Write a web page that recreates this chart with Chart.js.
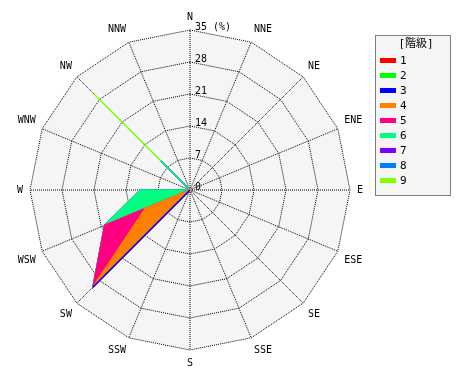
<!DOCTYPE html>
<html><head><meta charset="utf-8">
<script src="https://cdn.jsdelivr.net/npm/chart.js@4/dist/chart.umd.min.js"></script>
<style>html,body{margin:0;padding:0;background:#fff;}</style>
</head><body>
<canvas id="c" width="470" height="380" style="width:470px;height:380px;display:block"></canvas>
<script>
const directions = ['N','NNE','NE','ENE','E','ESE','SE','SSE','S','SSW','SW','WSW','W','WNW','NW','NNW'];
const classLabels = ['1','2','3','4','5','6','7','8','9'];
const classColors = ['#ff0000','#00ff00','#0000ff','#ff8000','#ff0080','#00ff80','#8000ff','#0080ff','#80ff00'];
const legendTitle = '[階級]';
const tickValues = [0,7,14,21,28,35];
const tickLabels = ['0','7','14','21','28','35 (%)'];
// cumulative frequency (%) up to each class, by direction (N ... NNW)
const class1 = [0,0,0,0,0,0,0,0,0,0,0,0,0,0,0,0];
const class2 = [0,0,0,0,0,0,0,0,0,0,0,0,0,0,0,0];
const class3 = [0,0,0,0,0,0,0,0,0,0,30,0,0,0,0,0];
const class4 = [0,0,0,0,0,0,0,0,0,0,30,10.6,0,0,0,0];
const class5 = [0,0,0,0,0,0,0,0,0,0,30,20.2,0,0,0,0];
const class6 = [0,0,0,0,0,0,0,0,0,0,30,20.2,10.8,0,9,0];
const class7 = [0,0,0,0,0,0,0,0,0,0,30,20.2,10.8,0,9,0];
const class8 = [0,0,0,0,0,0,0,0,0,0,30,20.2,10.8,0,9,0];
const class9 = [0,0,0,0,0,0,0,0,0,0,30,20.2,10.8,0,29.7,0];
const classData = [class1,class2,class3,class4,class5,class6,class7,class8,class9];

const FONT = '"DejaVu Sans Mono", "Noto Sans CJK JP", monospace';

const bgPlugin = {
  id: 'bg',
  beforeDraw(chart) {
    const ctx = chart.ctx, s = chart.scales.r;
    ctx.save();
    ctx.fillStyle = '#fff';
    ctx.fillRect(0, 0, chart.width, chart.height);
    ctx.beginPath();
    for (let i = 0; i < directions.length; i++) {
      const p = s.getPointPositionForValue(i, s.max);
      if (i === 0) ctx.moveTo(p.x, p.y); else ctx.lineTo(p.x, p.y);
    }
    ctx.closePath();
    ctx.fillStyle = '#f5f5f5';
    ctx.fill();
    ctx.restore();
  },
  afterDraw(chart) {
    const ctx = chart.ctx, s = chart.scales.r;
    ctx.save();
    // tick labels right of the N spoke
    ctx.font = '10px ' + FONT;
    ctx.fillStyle = '#000';
    ctx.textAlign = 'left';
    ctx.textBaseline = 'alphabetic';
    tickValues.forEach((v, i) => {
      const d = s.getDistanceFromCenterForValue(v);
      ctx.fillText(tickLabels[i], s.xCenter + 5, s.yCenter - d);
    });
    // legend box
    const bx = 375.5, by = 35.5, bw = 75, bh = 160;
    ctx.fillStyle = '#f5f5f5';
    ctx.fillRect(bx, by, bw, bh);
    ctx.setLineDash([1, 1]);
    ctx.strokeStyle = '#000';
    ctx.lineWidth = 1;
    ctx.strokeRect(bx, by, bw, bh);
    ctx.setLineDash([]);
    ctx.fillStyle = '#000';
    ctx.font = '11px ' + FONT;
    ctx.textAlign = 'center';
    ctx.textBaseline = 'middle';
    ctx.fillText(legendTitle, 416, 44);
    ctx.textAlign = 'left';
    classLabels.forEach((lab, i) => {
      const y = 60 + i * 15;
      ctx.fillStyle = classColors[i];
      ctx.fillRect(380, y - 2, 16, 5);
      ctx.fillStyle = '#000';
      ctx.fillText(lab, 400, y + 1);
    });
    ctx.restore();
  }
};

new Chart(document.getElementById('c'), {
  type: 'radar',
  data: {
    labels: directions,
    datasets: classData.map((d, i) => ({
      label: classLabels[i],
      data: d,
      backgroundColor: classColors[i],
      borderColor: classColors[i],
      borderWidth: 1.5,
      fill: true,
      pointRadius: 0,
      tension: 0
    }))
  },
  options: {
    responsive: false,
    animation: false,
    events: [],
    layout: { padding: { left: 0, right: 90, top: 11, bottom: 11 } },
    plugins: { legend: { display: false }, tooltip: { enabled: false } },
    scales: {
      r: {
        min: 0, max: 35,
        ticks: { stepSize: 7, display: false },
        grid: { color: '#000', lineWidth: 1 },
        border: { dash: [1, 1] },
        angleLines: { color: '#000', lineWidth: 1, borderDash: [1, 1] },
        pointLabels: { color: '#000', padding: 7, font: { family: FONT, size: 10 } }
      }
    }
  },
  plugins: [bgPlugin]
});
</script>
</body></html>
